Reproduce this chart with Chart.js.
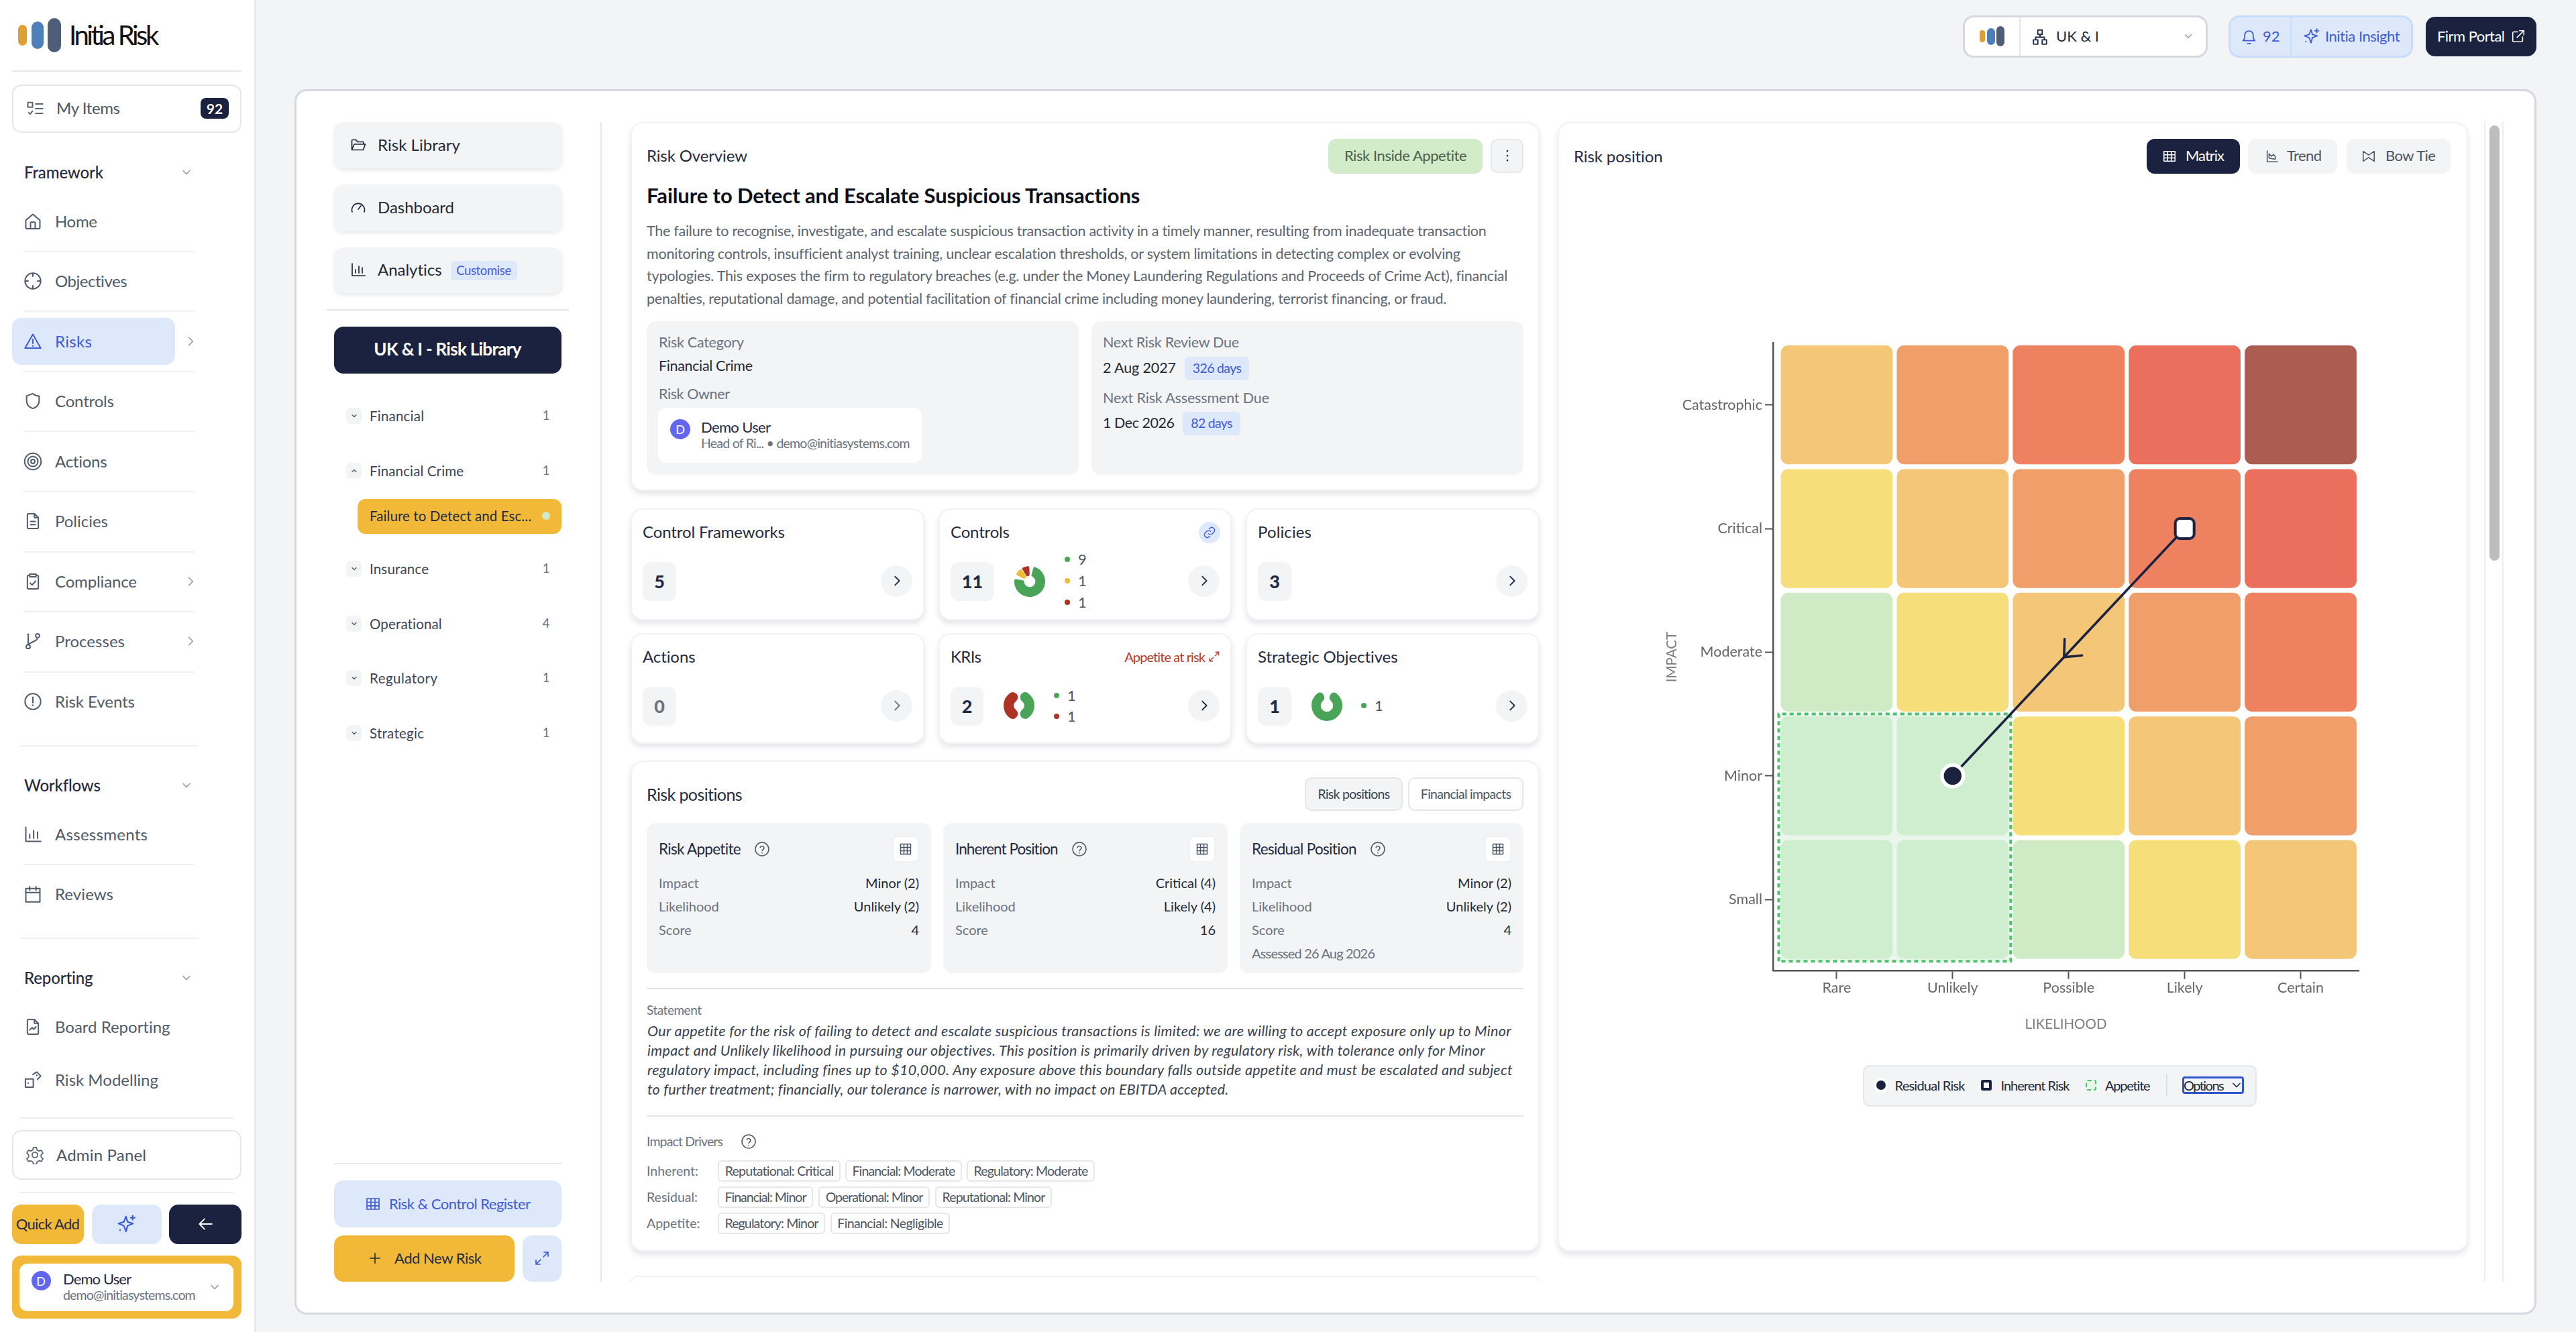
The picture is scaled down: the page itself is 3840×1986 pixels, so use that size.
<!DOCTYPE html>
<html>
<head>
<meta charset="utf-8">
<title>Initia Risk</title>
<script src="https://cdn.jsdelivr.net/npm/chart.js@4/dist/chart.umd.min.js"></script>
<style>
html, body { margin: 0; padding: 0; width: 3840px; height: 1986px; overflow: hidden; background: #f3f4f6; }
body { font-family: Lato, sans-serif; color: #1f2a44; }
#page { position: absolute; left: 0; top: 0; width: 3840px; height: 1986px; }
#page div, #page svg, #page canvas { position: absolute; box-sizing: border-box; }
.t { white-space: nowrap; line-height: 1; }
</style>
</head>
<body>
<div id="page"></div>
<script>
// matrix data
const likelihoodLabels = ['Rare', 'Unlikely', 'Possible', 'Likely', 'Certain'];
const impactLabels = ['Small', 'Minor', 'Moderate', 'Critical', 'Catastrophic'];
const cellBands = [
  [0, 0, 1, 2, 3],
  [0, 0, 2, 3, 4],
  [1, 2, 3, 4, 5],
  [2, 3, 4, 5, 6],
  [3, 4, 5, 6, 7]
];
const bandColours = ['#ceeecf', '#cfebc6', '#f6de7a', '#f4c678', '#f09e6a', '#ee8160', '#eb6f5d', '#ad5c52'];
const inherentPosition = { x: 4, y: 4 };
const residualPosition = { x: 2, y: 2 };
const appetiteLimit = { x: 2, y: 2 };

// small donuts on the cards
const controlCounts = [9, 1, 1];
const kriCounts = [1, 1];
const objectiveCounts = [1];
const GREEN = '#4aa457', AMBER = '#f2b938', RED = '#ac3325';
const NAVY = '#1a2240', BLUE = '#3f5bd8', PALE = '#dde8fb', GREY = '#f3f4f6', LINE = '#e5e7eb';

const page = document.getElementById('page');

function box(x1, y1, x2, y2, css) {
  const d = document.createElement('div');
  d.style.cssText = `left:${x1}px;top:${y1}px;width:${x2 - x1}px;height:${y2 - y1}px;${css || ''}`;
  page.appendChild(d);
  return d;
}
// text anchored on its vertical centre; w = stretch the line to that width
function txt(x, y, str, size, color, extra, anchor, w) {
  const d = document.createElement('div');
  d.className = 't';
  d.textContent = str;
  const tx = anchor === 'r' ? '-100%' : anchor === 'c' ? '-50%' : '0';
  d.style.cssText = `left:${x}px;top:${y}px;font-size:${size}px;color:${color};transform:translate(${tx},-50%);${extra || ''}`;
  page.appendChild(d);
  if (w) d.style.letterSpacing = (w - d.getBoundingClientRect().width) / (str.length - 1) + 'px';
  return d;
}
const circ = (x, y, r) => `M${x - r} ${y}a${r} ${r} 0 1 0 ${2 * r} 0a${r} ${r} 0 1 0 ${-2 * r} 0z`;
const ICONS = {
  list: 'M3 4h6v6H3z M4 17l2 2 3-4 M13 6h9 M13 12h9 M13 18h9',
  chev: 'M6 9l6 6 6-6',
  chevup: 'M6 15l6-6 6 6',
  right: 'M9 5l7 7-7 7',
  home: 'M3 10.5 12 3l9 7.5V20a1.5 1.5 0 0 1-1.5 1.5h-15A1.5 1.5 0 0 1 3 20z M9 21.5V14a1 1 0 0 1 1-1h4a1 1 0 0 1 1 1v7.5',
  crosshair: circ(12, 12, 10) + ' M12 2v4 M12 18v4 M2 12h4 M18 12h4',
  alert: 'M12 3 2 20.5h20z M12 9.5v5 M12 17.5v.6',
  shield: 'M12 2.5 4 5.5v6c0 5 3.5 8.5 8 10 4.5-1.5 8-5 8-10v-6c-3 0-5.5-1-8-3z',
  rings: circ(12, 12, 10.5) + circ(12, 12, 6.5) + circ(12, 12, 2.5),
  doc: 'M14 2.5H6.5A1.5 1.5 0 0 0 5 4v16a1.5 1.5 0 0 0 1.5 1.5h11A1.5 1.5 0 0 0 19 20V7.5z M14 2.5v5h5 M9 12.5h6 M9 16.5h6',
  clip: 'M8 4H6.5A1.5 1.5 0 0 0 5 5.5V20a1.5 1.5 0 0 0 1.5 1.5h11A1.5 1.5 0 0 0 19 20V5.5A1.5 1.5 0 0 0 17.5 4H16 M8 2.5h8V6H8z M8.5 14l2.5 2.5 4.5-5',
  branch: circ(6, 19, 2.5) + circ(18, 5, 2.5) + circ(6, 3.5, .5) + ' M6 4v12.5 M18 7.5c0 5-7 4-12 9',
  info: circ(12, 12, 10) + ' M12 6.5v7 M12 16.5v.6',
  bars: 'M3 3v18h19 M8 17v-5 M13 17V7 M18 17V9',
  calendar: 'M3 5h18v17H3z M3 10h18 M8 2.5V7 M16 2.5V7',
  chartdoc: 'M14 2.5H6.5A1.5 1.5 0 0 0 5 4v16a1.5 1.5 0 0 0 1.5 1.5h11A1.5 1.5 0 0 0 19 20V7.5z M14 2.5v5h5 M8 16l3-3 2 2 3-3',
  dice: 'M2.5 11h10v10.5h-10z M12 5l5-3 5 5-4 4.5 M6 16v.6 M17 6v.6',
  gear: circ(12, 12, 3.5) + ' M10 2.5h4l.7 3 2.6 1.5 3-.9 2 3.4-2.3 2.2v3l2.3 2.2-2 3.4-3-.9-2.6 1.5-.7 3h-4l-.7-3-2.6-1.5-3 .9-2-3.4 2.3-2.2v-3L1.7 9.5l2-3.4 3 .9 2.6-1.5z',
  star: 'M11 3l2 6.5 6.5 2-6.5 2.5-2 7-2.5-7-6.5-2.5 6.5-2z M19 2v5 M16.5 4.5h5 M4 19v.6',
  back: 'M21 12H4 M11 5l-7 7 7 7',
  folder: 'M2.5 19.5v-14a1 1 0 0 1 1-1h5l2.5 3h8a1 1 0 0 1 1 1V11 M2.5 19.5h17l3-8.5H6z',
  gauge: 'M3 19a9.5 9.5 0 1 1 18 0 M12 15l4-5',
  table: 'M3 4h18v16H3z M3 9.5h18 M3 14.8h18 M9 4v16 M15 4v16',
  plus: 'M12 4v16 M4 12h16',
  expand: 'M14 10l7-7 M15 3h6v6 M10 14l-7 7 M3 15v6h6',
  grid: 'M3 3h18v18H3z M3 9h18 M3 15h18 M9 3v18 M15 3v18',
  help: circ(12, 12, 10) + ' M9.2 9.5a3 3 0 0 1 5.8 1c0 2-3 2.5-3 4 M12 17.5v.6',
  dots: 'M12 5v.2 M12 12v.2 M12 19v.2',
  link: 'M10 14a5 5 0 0 0 7 0l3-3a5 5 0 0 0-7-7l-1.5 1.5 M14 10a5 5 0 0 0-7 0l-3 3a5 5 0 0 0 7 7l1.5-1.5',
  org: 'M9 2.5h6v6H9z M3 16h6v6H3z M15 16h6v6h-6z M12 8.5v4 M6 16v-3.500h12V16',
  bell: 'M12 3a6 6 0 0 0-6 6c0 6-2.5 8-2.5 8h17S18 15 18 9a6 6 0 0 0-6-6z M10 21h4',
  external: 'M19 13v6.5a1.5 1.5 0 0 1-1.5 1.5h-13A1.5 1.5 0 0 1 3 19.5v-13A1.5 1.5 0 0 1 4.5 5H11 M14 3h7v7 M21 3l-11 11',
  trend: 'M4 3v18h17 M7 15V8l4 4 3-3 3 3v5z',
  bowtie: 'M3 4v16l9-6 9 6V4l-9 6z'
};
function ic(cx, cy, size, name, color, sw) {
  const s = document.createElementNS('http://www.w3.org/2000/svg', 'svg');
  s.setAttribute('viewBox', '0 0 24 24');
  s.style.cssText = `left:${cx - size / 2}px;top:${cy - size / 2}px;width:${size}px;height:${size}px;`;
  s.innerHTML = `<path d="${ICONS[name]}" fill="none" stroke="${color}" stroke-width="${sw || 1.7}" stroke-linecap="round" stroke-linejoin="round"/>`;
  page.appendChild(s);
}
function rule(x1, y, x2, c) { box(x1, y - 1, x2, y + 1, `background:${c || LINE};`); }
const CARD = `background:#fff;border-radius:18px;border:2px solid #f1f2f4;box-shadow:0 5px 9px rgba(30,40,70,.12);`;

// ---- sidebar
box(0, 0, 381, 1986, `background:#fff;border-right:2px solid #e2e4ea;`);
box(27, 37, 40, 68, 'background:#e09f32;border-radius:7px;');
box(47, 32, 65, 73, 'background:#4f7fb8;border-radius:9px;');
box(71, 27, 91, 78, 'background:#4f5d78;border-radius:10px;');
txt(103, 52, 'Initia Risk', 40, '#111', '', null, 135);
rule(18, 106, 360);
box(18, 126, 360, 198, `border:2px solid ${LINE};border-radius:14px;`);
ic(52, 162, 28, 'list', '#5a6472');
txt(84, 161, 'My Items', 24, '#4b5563', '', null, 95);
box(299, 146, 341, 177, `background:${NAVY};border-radius:8px;`);
txt(320, 161, '92', 21, '#fff', 'font-weight:700;', 'c');

const navHeads = [['Framework', 257, 118], ['Workflows', 1171, 114], ['Reporting', 1458, 103]];
navHeads.forEach(([s, y, w]) => {
  txt(36, y, s, 24, '#1f2a44', 'font-weight:500;', null, w);
  ic(278, y, 20, 'chev', '#8a93a0');
});
box(18, 474, 261, 544, `background:${PALE};border-radius:14px;`);
const navItems = [
  ['Home', 330, 'home', 63], ['Objectives', 419, 'crosshair', 108], ['Risks', 509, 'alert', 55], ['Controls', 598, 'shield', 88],
  ['Actions', 688, 'rings', 78], ['Policies', 777, 'doc', 79], ['Compliance', 867, 'clip', 122], ['Processes', 956, 'branch', 104],
  ['Risk Events', 1046, 'info', 119], ['Assessments', 1244, 'bars', 138], ['Reviews', 1333, 'calendar', 87],
  ['Board Reporting', 1531, 'chartdoc', 172], ['Risk Modelling', 1610, 'dice', 154]
];
navItems.forEach(([s, y, i, w]) => {
  const c = s === 'Risks' ? BLUE : '#4f5a6a';
  ic(49, y, 28, i, c);
  txt(82, y, s, 24, c, '', null, w);
});
[509, 867, 956].forEach(y => ic(284, y, 20, 'right', '#8a93a0'));
[375, 464, 554, 643, 733, 823, 912, 1002, 1289].forEach(y => rule(35, y, 290, '#eef0f3'));
[1112, 1399].forEach(y => rule(29, y, 296, '#eef0f3'));
rule(29, 1667, 348, '#eceef1');
box(18, 1685, 360, 1759, `border:2px solid ${LINE};border-radius:14px;`);
ic(52, 1722, 28, 'gear', '#5a6472', 1.5);
txt(84, 1722, 'Admin Panel', 24, '#4b5563', '', null, 134);
rule(29, 1778, 348, '#eceef1');
box(18, 1796, 125, 1855, `background:${AMBER};border-radius:14px;`);
txt(71, 1825, 'Quick Add', 22, '#1f2a44', '', 'c', 95);
box(137, 1796, 241, 1855, `background:${PALE};border-radius:14px;`);
ic(189, 1825, 30, 'star', BLUE);
box(252, 1796, 360, 1855, `background:${NAVY};border-radius:14px;`);
ic(306, 1825, 26, 'back', '#fff');
box(18, 1872, 360, 1966, `background:${AMBER};border-radius:14px;`);
box(29, 1884, 348, 1955, 'background:#fff;border-radius:12px;');
box(47, 1895, 76, 1924, 'background:#6366f1;border-radius:50%;');
txt(61, 1910, 'D', 18, '#fff', '', 'c');
txt(94, 1907, 'Demo User', 22, '#1f2a44', '', null, 102);
txt(94, 1931, 'demo@initiasystems.com', 19.5, '#6b7280', '', null, 198);
ic(320, 1919, 20, 'chev', '#8a93a0');

// ---- top bar
box(2926, 23, 3291, 86, 'background:#fff;border:3px solid #d5d8e0;border-radius:16px;');
box(3010, 25, 3012, 84, 'background:#e3e5ea;');
box(2951, 45, 2959, 63, 'background:#e09f32;border-radius:4px;');
box(2962, 42, 2974, 67, 'background:#4f7fb8;border-radius:6px;');
box(2976, 39, 2988, 69, 'background:#4f5d78;border-radius:6px;');
ic(3041, 55, 26, 'org', '#1f2a44');
txt(3065, 54, 'UK & I', 22, '#1f2a44');
ic(3262, 54, 18, 'chev', '#8a93a0');
box(3322, 23, 3597, 86, `background:${PALE};border:3px solid #c9dcfa;border-radius:16px;`);
box(3414, 25, 3416, 84, 'background:#c9dcfa;');
ic(3352, 55, 25, 'bell', BLUE);
txt(3373, 54, '92', 22, BLUE);
ic(3446, 54, 26, 'star', BLUE);
txt(3466, 54, 'Initia Insight', 22, BLUE, '', null, 112);
box(3616, 25, 3781, 84, `background:${NAVY};border-radius:14px;`);
txt(3633, 54, 'Firm Portal', 22, '#fff', '', null, 101);
ic(3754, 54, 22, 'external', '#fff');

// ---- main panel
box(439, 133, 3781, 1960, 'background:#fff;border:3px solid #d5d8e0;border-radius:18px;');
const menuBtn = 'background:#f3f4f6;border-radius:14px;box-shadow:0 3px 5px rgba(30,40,70,.1);';
[[182, 251, 'Risk Library', 216, 'folder', 123], [275, 345, 'Dashboard', 309, 'gauge', 114], [369, 437, 'Analytics', 402, 'bars', 96]].forEach(([a, b, s, y, i, w]) => {
  box(498, a, 838, b, menuBtn);
  ic(534, y, 24, i, '#1f2937');
  txt(563, y, s, 24, '#1f2937', '', null, w);
});
box(672, 389, 771, 418, `background:${PALE};border-radius:6px;`);
txt(721, 403, 'Customise', 18.5, BLUE, '', 'c', 82);
rule(487, 462, 848);
box(498, 487, 837, 557, `background:${NAVY};border-radius:14px;`);
txt(667, 520, 'UK & I - Risk Library', 26, '#fff', 'font-weight:700;', 'c', 220);
const treeRows = [['Financial', 620, 1, 81], ['Financial Crime', 702, 1, 140], ['Insurance', 848, 1, 88], ['Operational', 930, 4, 108], ['Regulatory', 1011, 1, 101], ['Strategic', 1093, 1, 81]];
treeRows.forEach(([s, y, n, w], i) => {
  box(516, y - 12, 539, y + 12, 'background:#f3f4f6;border-radius:6px;');
  ic(527.5, y, 12, i === 1 ? 'chevup' : 'chev', '#4b5563', 2.6);
  txt(551, y, s, 20.5, '#3a4558', '', null, w);
  txt(814, y - 1, String(n), 18.5, '#6b7280', '', 'c');
});
box(533, 744, 837, 796, `background:${AMBER};border-radius:12px;`);
txt(551, 769, 'Failure to Detect and Esc...', 20.5, '#1f2a44', '', null, 241);
box(808, 763, 820, 775, 'background:#cfe9c6;border-radius:50%;');
box(895, 182, 897, 1911, `background:${LINE};`);
rule(498, 1735, 837);
box(498, 1760, 837, 1830, `background:${PALE};border-radius:14px;`);
ic(556, 1795, 24, 'table', BLUE);
txt(580, 1795, 'Risk & Control Register', 22, BLUE, '', null, 211);
box(498, 1842, 767, 1911, `background:${AMBER};border-radius:14px;`);
ic(559, 1876, 22, 'plus', '#1f2a44');
txt(588, 1876, 'Add New Risk', 22, '#1f2a44', '', null, 130);
box(779, 1842, 837, 1911, `background:${PALE};border-radius:14px;`);
ic(808, 1876, 24, 'expand', BLUE);

// ---- risk overview card
box(940, 182, 2295, 732, CARD);
txt(964, 232, 'Risk Overview', 24, '#1f2a44', '', null, 150);
box(1980, 207, 2210, 259, 'background:#d2ebc8;border-radius:12px;');
txt(2095, 232, 'Risk Inside Appetite', 22, '#4b5f4c', '', 'c', 183);
box(2222, 207, 2271, 258, 'background:#f3f4f6;border:2px solid #e5e7eb;border-radius:10px;');
ic(2246.5, 232, 24, 'dots', '#1f2a44', 2.6);
txt(964, 291, 'Failure to Detect and Escalate Suspicious Transactions', 31, '#0c0f1a', 'font-weight:700;', null, 736);
const overviewLines = [
  ['The failure to recognise, investigate, and escalate suspicious transaction activity in a timely manner, resulting from inadequate transaction', 1254],
  ['monitoring controls, insufficient analyst training, unclear escalation thresholds, or system limitations in detecting complex or evolving', 1213],
  ['typologies. This exposes the firm to regulatory breaches (e.g. under the Money Laundering Regulations and Proceeds of Crime Act), financial', 1283],
  ['penalties, reputational damage, and potential facilitation of financial crime including money laundering, terrorist financing, or fraud.', 1193]
];
overviewLines.forEach(([s, w], i) => txt(964, 345 + i * 33.6, s, 21.5, '#5b6470', '', null, w));
box(964, 479, 1608, 708, 'background:#f3f4f6;border-radius:14px;');
box(1627, 479, 2271, 708, 'background:#f3f4f6;border-radius:14px;');
txt(982, 511, 'Risk Category', 21.5, '#6b7280', '', null, 127);
txt(982, 546, 'Financial Crime', 21.5, '#1f2937', '', null, 140);
txt(982, 588, 'Risk Owner', 21.5, '#6b7280', '', null, 106);
box(981, 608, 1374, 690, 'background:#fff;border-radius:12px;');
box(999, 625, 1029, 655, 'background:#6366f1;border-radius:50%;');
txt(1014, 640, 'D', 18, '#fff', '', 'c');
txt(1045, 637, 'Demo User', 22, '#1f2a44', '', null, 104);
txt(1045, 661, 'Head of Ri... • demo@initiasystems.com', 19.5, '#6b7280', '', null, 312);
txt(1644, 511, 'Next Risk Review Due', 21.5, '#6b7280', '', null, 203);
txt(1644, 549, '2 Aug 2027', 21.5, '#1f2937', '', null, 109);
box(1766, 532, 1862, 567, `background:${PALE};border-radius:6px;`);
txt(1814, 549, '326 days', 19.5, BLUE, '', 'c', 73);
txt(1644, 594, 'Next Risk Assessment Due', 21.5, '#6b7280', '', null, 248);
txt(1644, 631, '1 Dec 2026', 21.5, '#1f2937', '', null, 107);
box(1763, 614, 1849, 649, `background:${PALE};border-radius:6px;`);
txt(1806, 631, '82 days', 19.5, BLUE, '', 'c', 62);

// ---- count cards
function countCard(x1, x2, y1, y2, title, titleW, count, boxW, muted) {
  box(x1, y1, x2, y2, CARD);
  txt(x1 + 18, y1 + 35, title, 24, '#1f2a44', '', null, titleW);
  box(x1 + 18, y1 + 80, x1 + 18 + boxW, y1 + 138, 'background:#f3f4f6;border-radius:12px;');
  txt(x1 + 18 + boxW / 2, y1 + 108, count, 27, muted ? '#6b7280' : '#1f2a44', 'font-weight:900;', 'c');
  box(x2 - 65, y1 + 85, x2 - 18, y1 + 132, 'background:#f3f4f6;border-radius:50%;');
  ic(x2 - 41.5, y1 + 108, 22, 'right', muted ? '#6b7280' : '#1f2a44', 2);
}
countCard(940, 1378, 758, 925, 'Control Frameworks', 212, '5', 50);
countCard(1399, 1836, 758, 925, 'Controls', 88, '11', 65);
countCard(1857, 2295, 758, 925, 'Policies', 80, '3', 50);
countCard(940, 1378, 944, 1109, 'Actions', 79, '0', 50, true);
countCard(1399, 1836, 944, 1109, 'KRIs', 46, '2', 49);
countCard(1857, 2295, 944, 1109, 'Strategic Objectives', 209, '1', 50);
box(1787, 778, 1819, 810, `background:${PALE};border-radius:50%;`);
ic(1803, 794, 20, 'link', BLUE);
txt(1796, 979, 'Appetite at risk', 20, '#b03a2e', '', 'r', 121);
ic(1810, 979, 18, 'expand', '#b03a2e');

function legendDot(x, y, c, n) {
  box(x - 4, y - 4, x + 4, y + 4, `background:${c};border-radius:50%;`);
  txt(x + 16, y, String(n), 22, '#4b5563');
}
legendDot(1591, 834, GREEN, controlCounts[0]);
legendDot(1591, 866, AMBER, controlCounts[1]);
legendDot(1591, 898, RED, controlCounts[2]);
legendDot(1575, 1037, GREEN, kriCounts[0]);
legendDot(1575, 1068, RED, kriCounts[1]);
legendDot(2033, 1052, GREEN, objectiveCounts[0]);

// ---- risk positions card
box(940, 1134, 2295, 1866, CARD);
txt(964, 1184, 'Risk positions', 25, '#1f2a44', '', null, 143);
box(1945, 1159, 2091, 1209, 'background:#f3f4f6;border:2px solid #e5e7eb;border-radius:10px;');
txt(2018, 1184, 'Risk positions', 19.5, '#374151', '', 'c', 108);
box(2099, 1159, 2271, 1209, 'background:#fff;border:2px solid #e5e7eb;border-radius:10px;');
txt(2185, 1184, 'Financial impacts', 19.5, '#4b5563', '', 'c', 135);
const positionPanels = [
  [964, 1388, 'Risk Appetite', 1136, 'Minor (2)', 'Unlikely (2)', '4', 123],
  [1406, 1830, 'Inherent Position', 1609, 'Critical (4)', 'Likely (4)', '16', 154],
  [1848, 2271, 'Residual Position', 2054, 'Minor (2)', 'Unlikely (2)', '4', 157]
];
positionPanels.forEach(([a, b, title, help, imp, lik, score, tw]) => {
  box(a, 1227, b, 1451, 'background:#f3f4f6;border-radius:14px;');
  txt(a + 18, 1266, title, 22.5, '#1f2a44', '', null, tw);
  ic(help, 1266, 24, 'help', '#4b5563', 1.5);
  box(b - 58, 1246, b - 18, 1286, 'background:#fff;border-radius:8px;border:2px solid #eef0f3;');
  ic(b - 38, 1266, 20, 'grid', '#4b5563', 1.8);
  [['Impact', imp, 1315.5], ['Likelihood', lik, 1351], ['Score', score, 1386]].forEach(([k, v, y]) => {
    txt(a + 18, y, k, 20, '#6b7280');
    txt(b - 18, y, v, 20, '#1f2937', '', 'r');
  });
});
txt(1866, 1421, 'Assessed 26 Aug 2026', 20, '#6b7280', '', null, 184);
rule(964, 1474, 2271);
txt(964, 1505, 'Statement', 19, '#6b7280', '', null, 82);
const statementLines = [
  ['Our appetite for the risk of failing to detect and escalate suspicious transactions is limited: we are willing to accept exposure only up to Minor', 1287],
  ['impact and Unlikely likelihood in pursuing our objectives. This position is primarily driven by regulatory risk, with tolerance only for Minor', 1248],
  ['regulatory impact, including fines up to $10,000. Any exposure above this boundary falls outside appetite and must be escalated and subject', 1289],
  ['to further treatment; financially, our tolerance is narrower, with no impact on EBITDA accepted.', 866]
];
statementLines.forEach(([s, w], i) => txt(965, 1537.5 + i * 29, s, 21.5, '#374151', 'font-style:italic;', null, w));
rule(964, 1664, 2271);
txt(964, 1702, 'Impact Drivers', 19.5, '#6b7280', '', null, 114);
ic(1115.5, 1702, 24, 'help', '#4b5563', 1.5);
const driverRows = [
  ['Inherent:', 1746, [['Reputational: Critical', 1070, 1253], ['Financial: Moderate', 1260, 1434], ['Regulatory: Moderate', 1441, 1632]]],
  ['Residual:', 1785, [['Financial: Minor', 1070, 1212], ['Operational: Minor', 1220, 1386], ['Reputational: Minor', 1394, 1568]]],
  ['Appetite:', 1824, [['Regulatory: Minor', 1070, 1230], ['Financial: Negligible', 1238, 1416]]]
];
driverRows.forEach(([s, y, tags]) => {
  txt(964, y, s, 19.5, '#6b7280');
  tags.forEach(([t, a, b]) => {
    box(a, y - 16, b, y + 16, `background:#fff;border:2px solid ${LINE};border-radius:6px;`);
    txt((a + b) / 2, y, t, 19.5, '#4b5563', '', 'c', b - a - 20);
  });
});
box(940, 1902, 2295, 1911, 'background:#fff;border:2px solid #f1f2f4;border-bottom:0;border-radius:18px 18px 0 0;');

// ---- risk position card
box(2322, 182, 3679, 1866, CARD);
txt(2346, 232.5, 'Risk position', 24, '#1f2a44', '', null, 133);
box(3200, 207, 3339, 259, `background:${NAVY};border-radius:12px;`);
ic(3234, 233, 22, 'table', '#fff');
txt(3258, 232, 'Matrix', 22, '#fff', '', null, 58);
box(3351, 207, 3484, 259, 'background:#f3f4f6;border-radius:12px;');
ic(3387, 233, 22, 'trend', '#4b5563');
txt(3409, 232, 'Trend', 22, '#4b5563', '', null, 52);
box(3498, 207, 3653, 259, 'background:#f3f4f6;border-radius:12px;');
ic(3531, 233, 22, 'bowtie', '#4b5563');
txt(3556, 232, 'Bow Tie', 22, '#4b5563', '', null, 75);
box(3703, 181, 3732, 1911, 'background:#fff;border-left:2px solid #eee;border-right:2px solid #eee;');
box(3711, 187, 3726, 836, 'background:#bdbdbd;border-radius:8px;');

// legend under the matrix
box(2777, 1588, 3364, 1650, 'background:#f3f4f6;border:2px solid #e5e7eb;border-radius:10px;');
box(2793, 1607, 2815, 1629, `background:${NAVY};border:4px solid #fff;border-radius:50%;`);
txt(2824.5, 1618, 'Residual Risk', 20, '#1f2937', '', null, 105);
box(2953, 1610, 2969, 1626, `background:#fff;border:4px solid ${NAVY};border-radius:3px;`);
txt(2982.5, 1618, 'Inherent Risk', 20, '#1f2937', '', null, 103);
box(3109, 1610, 3125, 1626, 'background:#e6f6e9;border:2px dashed #4cc26a;border-radius:3px;');
txt(3138, 1618, 'Appetite', 20, '#1f2937', '', null, 68);
box(3229, 1601, 3231, 1635, 'background:#dcdfe4;');
box(3253, 1605, 3345, 1631, 'border:3px solid #2f56c8;border-radius:4px;');
txt(3255, 1618, 'Options', 20, '#1f2937', '', null, 61);
ic(3334, 1618, 20, 'chev', '#1f2a44', 2);

// ---- charts
function makeDonut(cx, cy, size, values, colours, cutout, radius) {
  const c = document.createElement('canvas');
  c.width = size;
  c.height = size;
  c.style.cssText = `left:${cx - size / 2}px;top:${cy - size / 2}px;width:${size}px;height:${size}px;`;
  page.appendChild(c);
  new Chart(c, {
    type: 'doughnut',
    data: { datasets: [{ data: values, backgroundColor: colours, borderWidth: 0, spacing: 3, borderRadius: radius }] },
    options: { responsive: false, animation: false, cutout: cutout, plugins: { legend: { display: false }, tooltip: { enabled: false } } }
  });
}
makeDonut(1535, 867, 46, controlCounts, [GREEN, AMBER, RED], '32%', 2);
makeDonut(1519, 1052, 46, kriCounts, [GREEN, RED], '30%', 8);
makeDonut(1978, 1052, 46, objectiveCounts, [GREEN], '36%', 6);

// inherent marker, rounded square
const inherentIcon = document.createElement('canvas');
inherentIcon.width = 36;
inherentIcon.height = 36;
const ictx = inherentIcon.getContext('2d');
ictx.beginPath();
ictx.roundRect(4, 3, 28, 30, 7);
ictx.fillStyle = '#fff';
ictx.fill();
ictx.lineWidth = 4;
ictx.strokeStyle = NAVY;
ictx.stroke();

// open arrow head half way along the move from inherent to residual
const arrowHead = {
  id: 'arrowHead',
  afterDatasetsDraw(chart) {
    const { x, y } = chart.scales;
    const x1 = x.getPixelForValue(inherentPosition.x), y1 = y.getPixelForValue(inherentPosition.y);
    const x2 = x.getPixelForValue(residualPosition.x), y2 = y.getPixelForValue(residualPosition.y);
    const a = Math.atan2(y2 - y1, x2 - x1);
    const tx = x1 + (x2 - x1) * 0.52, ty = y1 + (y2 - y1) * 0.52;
    const ctx = chart.ctx;
    ctx.save();
    ctx.strokeStyle = NAVY;
    ctx.lineWidth = 3.5;
    ctx.lineCap = 'round';
    ctx.beginPath();
    ctx.moveTo(tx + 27 * Math.cos(a + Math.PI - 0.72), ty + 27 * Math.sin(a + Math.PI - 0.72));
    ctx.lineTo(tx, ty);
    ctx.lineTo(tx + 27 * Math.cos(a + Math.PI + 0.72), ty + 27 * Math.sin(a + Math.PI + 0.72));
    ctx.stroke();
    ctx.restore();
  }
};

const cellDatasets = impactLabels.map((_, row) => ({
  type: 'bar',
  order: 5,
  data: likelihoodLabels.map((_, col) => ({ x: col + 1, y: [row + 1 - 0.479, row + 1 + 0.479] })),
  backgroundColor: cellBands[row].map(b => bandColours[b]),
  borderRadius: 11,
  borderSkipped: false,
  barThickness: 166,
  grouped: false
}));

const matrixCanvas = document.createElement('canvas');
matrixCanvas.width = 1080;
matrixCanvas.height = 1070;
matrixCanvas.style.cssText = 'left:2460px;top:490px;width:1080px;height:1070px;';
page.appendChild(matrixCanvas);

const tickFont = { family: 'Lato', size: 21.5 };
const titleFont = { family: 'Lato', size: 20.5 };
const unitTicks = labels => scale => { scale.ticks = labels.map((_, i) => ({ value: i + 1 })); };

new Chart(matrixCanvas, {
  type: 'bar',
  data: {
    datasets: [
      {
        type: 'line',
        order: 9,
        label: 'Appetite',
        data: [
          { x: 0.5, y: 0.5 }, { x: 0.5, y: appetiteLimit.y + 0.5 }, { x: appetiteLimit.x + 0.5, y: appetiteLimit.y + 0.5 },
          { x: appetiteLimit.x + 0.5, y: 0.5 }, { x: 0.5, y: 0.5 }
        ],
        borderColor: '#4cc26a',
        borderWidth: 4,
        borderDash: [6, 5],
        backgroundColor: '#e9f6ec',
        fill: 'shape',
        tension: 0,
        pointRadius: 0
      },
      ...cellDatasets,
      {
        type: 'line',
        order: 3,
        label: 'Move',
        data: [inherentPosition, residualPosition],
        borderColor: NAVY,
        borderWidth: 3.5,
        tension: 0,
        pointRadius: 0
      },
      {
        type: 'line',
        order: 1,
        label: 'Residual Risk',
        data: [residualPosition],
        showLine: false,
        pointStyle: 'circle',
        pointRadius: 16,
        pointBorderWidth: 5.5,
        pointBackgroundColor: NAVY,
        pointBorderColor: '#fff'
      },
      {
        type: 'line',
        order: 1,
        label: 'Inherent Risk',
        data: [inherentPosition],
        showLine: false,
        pointStyle: inherentIcon
      }
    ]
  },
  plugins: [arrowHead],
  options: {
    responsive: false,
    animation: false,
    layout: { padding: { top: 20, right: 24 } },
    plugins: { legend: { display: false }, tooltip: { enabled: false } },
    scales: {
      x: {
        type: 'linear',
        offset: false,
        min: 0.451,
        max: 5.5,
        afterBuildTicks: unitTicks(likelihoodLabels),
        afterFit: s => { s.height = 112.4; },
        ticks: { autoSkip: false, maxRotation: 0, callback: v => likelihoodLabels[v - 1], font: tickFont, color: '#666', padding: 1 },
        grid: { offset: false, drawOnChartArea: false, tickLength: 12, tickWidth: 2, tickColor: '#555' },
        border: { color: '#555', width: 2.5 },
        title: { display: true, text: 'LIKELIHOOD', font: titleFont, color: '#7d7d7d', padding: { top: 0, bottom: 20 } }
      },
      y: {
        type: 'linear',
        min: 0.4225,
        max: 5.5,
        afterBuildTicks: unitTicks(impactLabels),
        afterFit: s => { s.width = 183; },
        ticks: { autoSkip: false, callback: v => impactLabels[v - 1], font: tickFont, color: '#666', padding: 4 },
        grid: { drawOnChartArea: false, tickLength: 12, tickWidth: 2, tickColor: '#555' },
        border: { color: '#555', width: 2.5 },
        title: { display: true, text: 'IMPACT', font: titleFont, color: '#7d7d7d', padding: { top: 20, bottom: 0 } }
      }
    }
  }
});
</script>
</body>
</html>
